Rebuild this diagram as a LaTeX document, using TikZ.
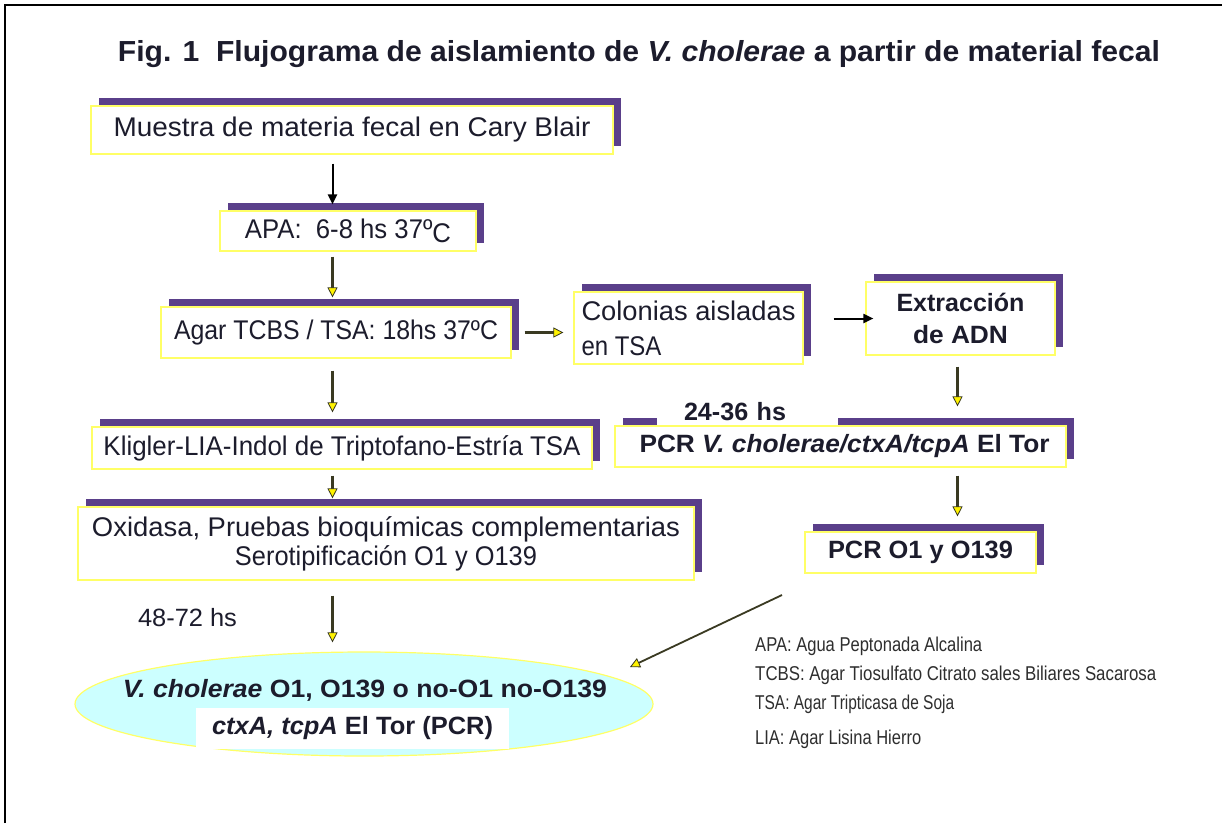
\documentclass[tikz,border=0pt]{standalone}
\usepackage{fontspec}
\setmainfont{Liberation Sans}
\usepackage{graphicx}
\usetikzlibrary{arrows.meta,shapes.geometric,shadows}
\definecolor{purp}{HTML}{5A3F8A}
\definecolor{ybord}{HTML}{FFFF66}
\definecolor{txt}{HTML}{1C1C2C}
\definecolor{cyanf}{HTML}{CCFFFF}
\definecolor{olivel}{HTML}{3A3A22}
\definecolor{legc}{HTML}{2E2E2E}
\newcommand{\fitto}[2]{\resizebox{#1pt}{\height}{#2}}
\begin{document}
\begin{tikzpicture}[x=1pt,y=-1pt,
  box/.style={draw=ybord, line width=1.2pt, fill=white, inner sep=0pt, text=txt,
     general shadow={fill=purp, shadow xshift=8pt, shadow yshift=8pt}},
  reg/.style={font=\fontsize{27}{32}\selectfont},
  bld/.style={font=\bfseries\fontsize{25}{32}\selectfont},
  barrow/.style={draw=black, line width=2pt, -{Triangle[length=10pt,width=9pt]}},
  yarrow/.style={draw=olivel, line width=2.2pt, -{Triangle[length=10pt,width=10pt,fill=yellow,line width=0.8pt]}},
  lbl/.style={inner sep=0pt, text=txt},
  leg/.style={anchor=west, inner sep=0pt, text=legc, font=\fontsize{20}{24}\selectfont},
]
\useasboundingbox (0,0) rectangle (1222,823);
\fill[white] (0,0) rectangle (1222,823);
\draw[line width=2.5pt] (5,823) -- (5,5) -- (1222,5);

\node[lbl, font=\bfseries\fontsize{29}{34}\selectfont] (title) at (639,54)
  {\fitto{1042}{Fig. 1\ \ Flujograma de aislamiento de \textit{V. cholerae} a partir de material fecal}};

\node[box, reg, minimum width=522pt, minimum height=48pt] (m) at (352,130)
  {\fitto{477}{Muestra de materia fecal en Cary Blair}};
\node[box, reg, minimum width=256pt, minimum height=40pt] (apa) at (348,231)
  {\fitto{206}{APA:\ \ 6-8 hs 37º\raisebox{-4pt}{C}}};
\node[box, reg, minimum width=350pt, minimum height=51pt] (agar) at (336,332.5)
  {\fitto{324}{Agar TCBS / TSA: 18hs 37ºC}};
\node[box, reg, minimum width=229pt, minimum height=72pt, align=left] (col) at (688.5,328)
  {\fitto{214}{Colonias aisladas}\\[3pt]\fitto{80}{en TSA}};
\node[box, bld, minimum width=189pt, minimum height=73pt, align=center] (ext) at (960.5,318.5)
  {\fitto{128}{Extracción}\\\fitto{95}{de ADN}};
\node[box, bld, minimum width=451pt, minimum height=41pt] (pcr) at (840.5,446.5)
  {\hspace*{8pt}\fitto{410}{PCR \textit{V. cholerae/ctxA/tcpA} El Tor}};
\node[lbl, bld, fill=white, minimum height=26pt, text width=181pt, align=left] (t1) at (747.5,412)
  {\hspace*{27pt}\fitto{102}{24-36 hs}};
\node[box, bld, minimum width=231pt, minimum height=41pt] (o1) at (920.5,552.5)
  {\fitto{185}{PCR O1 y O139}};
\node[box, reg, minimum width=500pt, minimum height=42pt] (kl) at (342,448)
  {\fitto{477}{Kligler-LIA-Indol de Triptofano-Estría TSA}};
\node[box, font=\fontsize{27}{29}\selectfont, minimum width=616pt, minimum height=73pt, align=center] (ox) at (386,543.5)
  {\fitto{588}{Oxidasa, Pruebas bioquímicas complementarias}\\\fitto{302}{Serotipificación O1 y O139}};
\node[lbl, font=\fontsize{25}{28}\selectfont] (t2) at (187.5,618) {\fitto{99}{48-72 hs}};

\node[ellipse, draw=ybord, line width=1.2pt, fill=cyanf, minimum width=578pt, minimum height=104pt, inner sep=0pt] (res) at (364,704) {};
\node[lbl, bld] (r1) at (365,690) {\fitto{484}{\textit{V. cholerae} O1, O139 o no-O1 no-O139}};
\node[lbl, bld, fill=white, minimum width=313pt, minimum height=41pt] (r2) at (352.5,728.5)
  {\fitto{281}{\textit{ctxA, tcpA} El Tor (PCR)}};

\node[leg] (l1) at (755,646) {\fitto{227}{APA: Agua Peptonada Alcalina}};
\node[leg] (l2) at (755,675) {\fitto{401}{TCBS: Agar Tiosulfato Citrato sales Biliares Sacarosa}};
\node[leg] (l3) at (755,704) {\fitto{199}{TSA: Agar Tripticasa de Soja}};
\node[leg] (l4) at (755,739) {\fitto{166}{LIA: Agar Lisina Hierro}};

\coordinate (ax) at (332.5,0);
\coordinate (bx) at (957.5,0);
\draw[barrow, shorten <=9pt, shorten >=6pt] (m.south -| ax) -- (apa.north -| ax);
\draw[yarrow, shorten <=5pt, shorten >=9pt] (apa.south -| ax) -- (agar.north -| ax);
\draw[yarrow, shorten <=13pt, shorten >=10pt] (agar.east) -- (col.west |- agar.east);
\draw[barrow, shorten <=30pt, shorten >=-8pt] (col.east |- ext.west) -- (ext.west);
\draw[yarrow, shorten <=11pt, shorten >=19pt] (ext.south -| bx) -- (pcr.north -| bx);
\draw[yarrow, shorten <=8pt, shorten >=15pt] (pcr.south -| bx) -- (o1.north -| bx);
\draw[yarrow, shorten <=12pt, shorten >=14pt] (agar.south -| ax) -- (kl.north -| ax);
\draw[yarrow, shorten <=6pt, shorten >=8pt] (kl.south -| ax) -- (ox.north -| ax);
\draw[yarrow, shorten <=15pt, shorten >=9pt] (ox.south -| ax) -- (res.north -| ax);
\coordinate (d1) at (782,595);
\coordinate (d2) at (630,667);
\draw[yarrow, line width=1.8pt] (d1) -- (d2);
\end{tikzpicture}
\end{document}
